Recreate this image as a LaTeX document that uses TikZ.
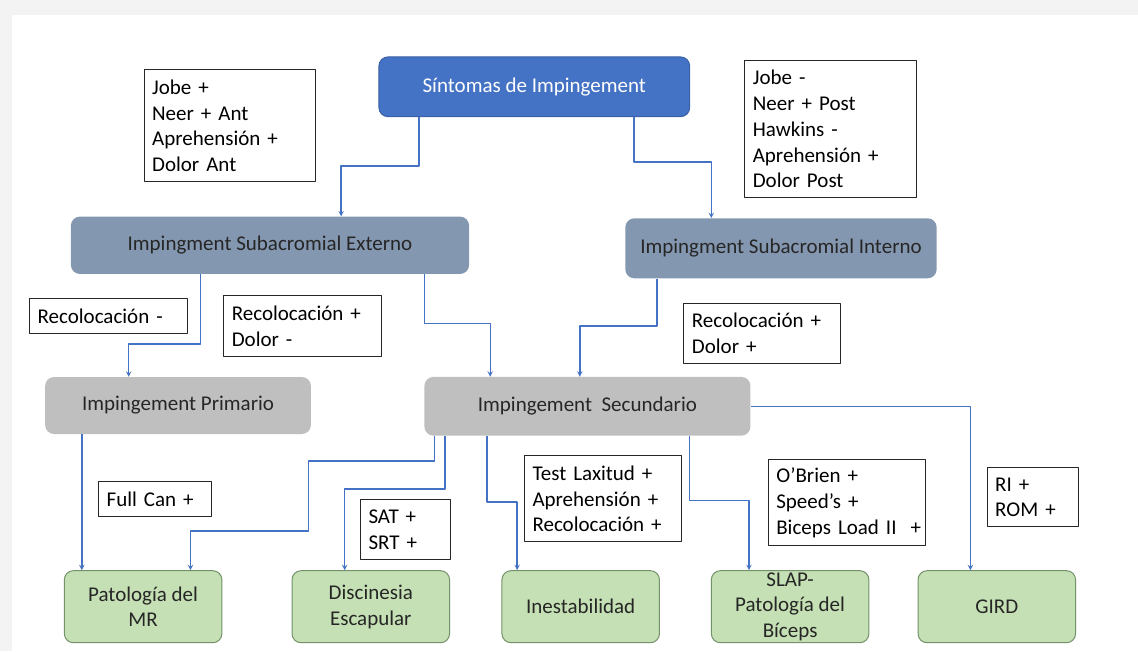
\documentclass[tikz,border=0pt]{standalone}
\usepackage{fontspec}
\setmainfont{Carlito}
\definecolor{azul}{HTML}{4472C4}
\definecolor{azulborde}{HTML}{3A62A8}
\definecolor{grisazul}{HTML}{8497B0}
\definecolor{gris}{HTML}{BFBFBF}
\definecolor{verde}{HTML}{C5E0B4}
\definecolor{verdeborde}{HTML}{73926A}
\definecolor{fondo}{HTML}{F3F3F3}
\begin{document}
\begin{tikzpicture}[x=1pt,y=-1pt,font=\fontsize{21}{25.7}\selectfont,line join = round,>=stealth,
	caja/.style={rounded corners=9pt,inner sep=0pt,align=center,text=black!85},
	inicio/.style={caja,fill=azul,draw=azulborde,line width=1pt,text=white},
	nivel/.style={caja,fill=grisazul},
	tipo/.style={caja,fill=gris},
	final/.style={caja,fill=verde,draw=verdeborde,line width=1pt,minimum width=157.5pt,minimum height=72pt},
	nota/.style={draw=black!85,line width=1pt,fill=white,anchor=north west,align=left,inner xsep=8pt,inner ysep=0pt},
	flecha/.style={->,draw=azul,line width=1.4pt}]
		\useasboundingbox (0,0) rectangle (1138,651);
		\fill[fondo] (0,0) rectangle (1138,651);
		\fill[white] (12,15) rectangle (1138,651);
		% cajas principales
		\node[inicio,minimum width=310.7pt,minimum height=59.7pt] (sint) at (534.3,86.8) {Síntomas de Impingement};
		\node[nivel,minimum width=398.2pt,minimum height=57.3pt] (ext) at (270,245.3) {Impingment Subacromial Externo};
		\node[nivel,minimum width=311.3pt,minimum height=60pt] (int) at (781,248.3) {Impingment Subacromial Interno};
		\node[tipo,minimum width=265.8pt,minimum height=57pt] (prim) at (178,405.5) {Impingement Primario};
		\node[tipo,minimum width=326pt,minimum height=58.7pt] (sec) at (587.4,406.3) {Impingement\ \ Secundario};
		\node[final] (mr) at (143.1,606.7) {Patología del\\MR};
		\node[final] (disc) at (370.8,606.7) {Discinesia\\Escapular};
		\node[final] (ines) at (580.7,606.7) {Inestabilidad};
		\node[final] (slap) at (790.1,606.7) {SLAP-\\Patología del\\Bíceps};
		\node[final] (gird) at (996.8,606.7) {GIRD};
		% notas
		\node[nota,text width=155pt,minimum height=112pt] (signosA) at (143.6,69.3) {Jobe +\\Neer + Ant\\Aprehensión +\\Dolor Ant};
		\node[nota,text width=155.7pt,minimum height=137.3pt] (signosB) at (744.3,60) {Jobe -\\Neer + Post\\Hawkins -\\Aprehensión +\\Dolor Post};
		\node[nota,text width=141.4pt,minimum height=35pt] (recA) at (29.1,298.3) {Recolocación -};
		\node[nota,text width=141.4pt,minimum height=61pt] (recB) at (223.3,295) {Recolocación +\\Dolor -};
		\node[nota,text width=140.2pt,minimum height=60.6pt] (recC) at (683.4,302.7) {Recolocación +\\Dolor +};
		\node[nota,text width=96.3pt,minimum height=35pt] (can) at (98.2,481) {Full Can +};
		\node[nota,text width=73.5pt,minimum height=60.3pt] (sat) at (360,499) {SAT +\\SRT +};
		\node[nota,text width=141.2pt,minimum height=86pt] (lax) at (524,455.3) {Test Laxitud +\\Aprehensión +\\Recolocación +};
		\node[nota,text width=140.9pt,minimum height=85.7pt] (obr) at (767.8,459.3) {O’Brien +\\Speed’s +\\\mbox{Biceps Load II\ \ +}};
		\node[nota,text width=75.6pt,minimum height=59pt] (rom) at (986.7,467.3) {RI +\\ROM +};
		% conectores
		\draw[flecha] (sint.south -| 418.9,0) |- (341.1,166) -- (ext.north -| 341.1,0);
		\draw[flecha] (sint.south -| 634.1,0) |- (711.3,162) -- (int.north -| 711.3,0);
		\draw[flecha] (ext.south -| 200.7,0) |- (128.7,344) -- (prim.north -| 128.7,0);
		\draw[flecha] (ext.south -| 424.4,0) |- (490.2,323.3) -- (sec.north -| 490.2,0);
		\draw[flecha] (int.south -| 657,0) |- (579.8,326) -- (sec.north -| 579.8,0);
		\draw[flecha] (prim.south -| 81.8,0) -- (mr.north -| 81.8,0);
		\draw[flecha] (sec.south -| 434.5,0) |- (308.4,461) |- (190.5,531) -- (mr.north -| 190.5,0);
		\draw[flecha] (sec.south -| 445.1,0) |- (344.7,489) -- (disc.north -| 344.7,0);
		\draw[flecha] (sec.south -| 486.9,0) |- (517.1,502) -- (ines.north -| 517.1,0);
		\draw[flecha] (sec.south -| 689.2,0) |- (749,500.7) -- (slap.north -| 749,0);
		\draw[flecha] (sec.east) -| (gird.north -| 970.4,0);
\end{tikzpicture}
\end{document}
